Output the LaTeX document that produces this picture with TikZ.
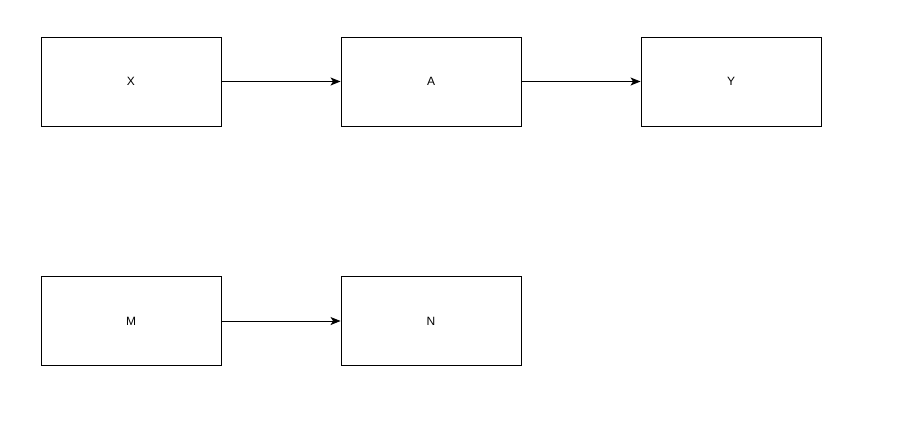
\documentclass[tikz,border=0pt]{standalone}
\usepackage{fontspec}
\setmainfont{Liberation Sans}
\usetikzlibrary{arrows.meta}
\begin{document}
\begin{tikzpicture}[x=1pt,y=-1pt,
  box/.style={draw,line width=0.9pt,minimum width=180pt,minimum height=89pt,inner sep=0pt,font=\fontsize{12}{14}\selectfont},
  conn/.style={draw,line width=0.9pt,-{Stealth[length=10pt,width=8pt,inset=2.5pt]}}]
\useasboundingbox (0,0) rectangle (915,421);
\node[box] (x) at (131,81.5) {X};
\node[box] (a) at (431,81.5) {A};
\node[box] (y) at (731,81.5) {Y};
\node[box] (m) at (131,321) {M};
\node[box] (n) at (431,321) {N};
\draw[conn] (x) -- (a);
\draw[conn] (a) -- (y);
\draw[conn] (m) -- (n);
\end{tikzpicture}
\end{document}
